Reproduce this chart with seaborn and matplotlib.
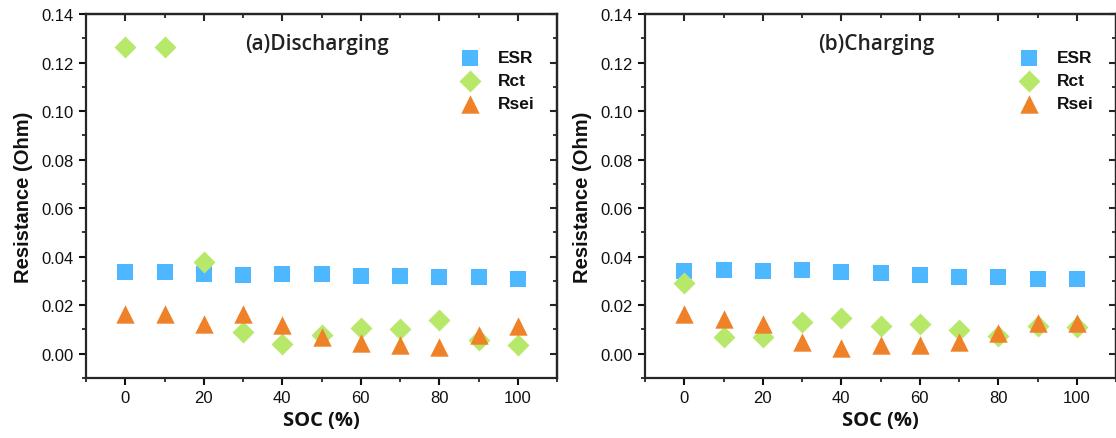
import numpy as np
import pandas as pd
import matplotlib
matplotlib.use("Agg")
import matplotlib.pyplot as plt
from matplotlib.ticker import MultipleLocator
import seaborn as sns

# State of charge (%)
soc = [0, 10, 20, 30, 40, 50, 60, 70, 80, 90, 100]

# Discharging resistances (Ohm)
esr_dis = [0.0336, 0.0336, 0.0330, 0.0323, 0.0328, 0.0328, 0.0322, 0.0320, 0.0315, 0.0315, 0.0308]
rct_dis = [0.1263, 0.1263, 0.0377, 0.0090, 0.0041, 0.0076, 0.0106, 0.0102, 0.0140, 0.0058, 0.0034]
rsei_dis = [0.0162, 0.0162, 0.0124, 0.0162, 0.0117, 0.0069, 0.0043, 0.0037, 0.0028, 0.0077, 0.0116]

# Charging resistances (Ohm)
esr_chg = [0.0340, 0.0344, 0.0340, 0.0343, 0.0335, 0.0332, 0.0325, 0.0318, 0.0315, 0.0310, 0.0310]
rct_chg = [0.0292, 0.0067, 0.0069, 0.0129, 0.0147, 0.0113, 0.0124, 0.0099, 0.0074, 0.0116, 0.0110]
rsei_chg = [0.0162, 0.0142, 0.0123, 0.0048, 0.0025, 0.0036, 0.0034, 0.0047, 0.0085, 0.0128, 0.0128]

series_names = ["ESR", "Rct", "Rsei"]
panel_titles = ["(a)Discharging", "(b)Charging"]
x_ticks = [0, 20, 40, 60, 80, 100]
y_ticks = [0.00, 0.02, 0.04, 0.06, 0.08, 0.10, 0.12, 0.14]

colors = {"ESR": "#4db8ff", "Rct": "#b8e86a", "Rsei": "#ef8228"}
markers = {"ESR": "s", "Rct": "D", "Rsei": "^"}
sizes = {"ESR": 118, "Rct": 125, "Rsei": 175}

sns.set_theme(style="ticks")
plt.rcParams["font.family"] = ["Liberation Sans", "DejaVu Sans"]
plt.rcParams["axes.linewidth"] = 1.6

fig = plt.figure(figsize=(11.16, 4.39), dpi=100)
ax_w, ax_h = 471 / 1116, 364 / 439
bottom = 60 / 439
axes = [fig.add_axes([86 / 1116, bottom, ax_w, ax_h]),
        fig.add_axes([645 / 1116, bottom, ax_w, ax_h])]

panels = [
    {"ESR": esr_dis, "Rct": rct_dis, "Rsei": rsei_dis},
    {"ESR": esr_chg, "Rct": rct_chg, "Rsei": rsei_chg},
]

for ax, data, title in zip(axes, panels, panel_titles):
    for name in series_names:
        df = pd.DataFrame({"SOC": soc, "R": data[name]})
        sns.scatterplot(data=df, x="SOC", y="R", ax=ax, marker=markers[name],
                        s=sizes[name], color=colors[name], linewidth=0,
                        label=name, zorder=3)

    ax.set_xlim(-10, 110)
    ax.set_ylim(-0.01, 0.14)
    ax.set_xticks(x_ticks)
    ax.set_yticks(y_ticks)
    ax.set_yticklabels([f"{v:.2f}" for v in y_ticks])
    ax.xaxis.set_minor_locator(MultipleLocator(10))
    ax.yaxis.set_minor_locator(MultipleLocator(0.01))
    ax.tick_params(which="major", direction="out", length=5, width=1.5,
                   labelsize=12, colors="#111111", pad=4)
    ax.tick_params(which="minor", direction="out", length=3, width=1.3)

    # Mirrored inward ticks on the top and right edges
    top = ax.secondary_xaxis("top")
    top.set_xticks(x_ticks)
    top.xaxis.set_minor_locator(MultipleLocator(10))
    top.tick_params(which="major", direction="in", length=5, width=1.5, labeltop=False)
    top.tick_params(which="minor", direction="in", length=3, width=1.3)
    right = ax.secondary_yaxis("right")
    right.set_yticks(y_ticks)
    right.yaxis.set_minor_locator(MultipleLocator(0.01))
    right.tick_params(which="major", direction="in", length=5, width=1.5, labelright=False)
    right.tick_params(which="minor", direction="in", length=3, width=1.3)

    ax.set_xlabel("SOC (%)", family=["Open Sans", "DejaVu Sans"], fontweight="bold",
                  fontsize=14.5, labelpad=3, color="#111111")
    ax.set_ylabel("Resistance (Ohm)", fontweight="bold", fontsize=14.5,
                  labelpad=6, color="#111111")

    ax.text(0.49, 0.918, title, transform=ax.transAxes, ha="center", va="center",
            family=["Open Sans", "DejaVu Sans"], fontweight="semibold",
            fontsize=15, color="#222222")

    leg = ax.legend(loc="upper right", bbox_to_anchor=(0.97, 0.925), frameon=False,
                    prop={"weight": "bold", "size": 12.5}, handletextpad=0.6,
                    labelspacing=0.45, borderpad=0, markerscale=1.0)
    for t in leg.get_texts():
        t.set_color("#111111")

fig.savefig("out.png", dpi=100)
